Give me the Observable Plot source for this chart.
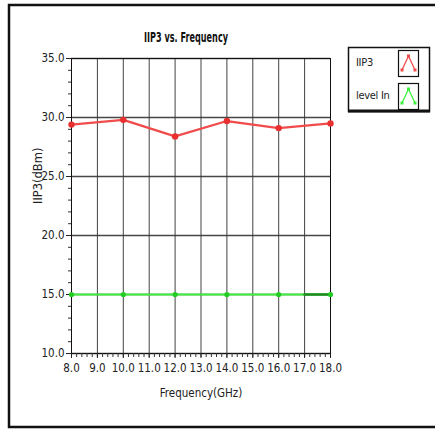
<!DOCTYPE html>
<html>
<head>
<meta charset="utf-8">
<script src="https://cdn.jsdelivr.net/npm/d3@7"></script>
<script src="https://cdn.jsdelivr.net/npm/@observablehq/plot@0.6"></script>
<style>
  html, body { margin: 0; padding: 0; background: #fff; }
  #wrap { position: relative; width: 435px; height: 430px; overflow: hidden; }
  #wrap svg { position: absolute; left: 0; top: 0; }
</style>
</head>
<body>
<div id="wrap"></div>
<script>
// ---- data ----
const freqs = [8, 10, 12, 14, 16, 18];
const iip3 = [29.4, 29.8, 28.4, 29.7, 29.1, 29.5];
const levelIn = [15, 15, 15, 15, 15, 15];
const levelInDarkFreqs = [17, 18];
const levelInDarkVals = [15, 15];
const xTicks = [8, 9, 10, 11, 12, 13, 14, 15, 16, 17, 18];
const yTicks = [10, 15, 20, 25, 30, 35];
const xMinor = d3.range(8, 18.001, 0.2);
const yMinor = d3.range(10, 35.001, 1);
const seriesNames = ["IIP3", "level In"];
const seriesColors = ["#f04c4c", "#3cf03c"];

const redData = freqs.map((f, i) => ({f, v: iip3[i]}));
const greenData = freqs.map((f, i) => ({f, v: levelIn[i]}));
const darkData = levelInDarkFreqs.map((f, i) => ({f, v: levelInDarkVals[i]}));

const font = "'DejaVu Sans Condensed', 'Liberation Sans Narrow', 'Arial Narrow', sans-serif";

const chart = Plot.plot({
  width: 435,
  height: 430,
  marginLeft: 71,
  marginRight: 105,
  marginTop: 58,
  marginBottom: 77,
  style: {fontFamily: font, fontSize: "11px", color: "#222", background: "transparent"},
  x: {domain: [8, 18], label: null},
  y: {domain: [10, 35], label: null},
  marks: [
    Plot.gridX(xTicks, {stroke: "#222", strokeOpacity: 0.85, strokeWidth: 1}),
    Plot.gridY(yTicks, {stroke: "#333", strokeOpacity: 0.9, strokeWidth: 1.6}),
    Plot.frame({stroke: "#111", strokeWidth: 1}),
    Plot.axisX(xMinor, {tickSize: 4, text: null, stroke: "#333", label: null}),
    Plot.axisX(xTicks, {tickSize: 5, tickPadding: 5, tickFormat: d => d.toFixed(1), label: null, fontSize: 11.5, fill: "#222", letterSpacing: "-0.5px"}),
    Plot.axisY(yMinor, {tickSize: 3, text: null, stroke: "#333", label: null}),
    Plot.axisY(yTicks, {tickSize: 5, tickPadding: 2, tickFormat: d => d.toFixed(1), label: null, fontSize: 11.5, fill: "#222", letterSpacing: "-0.5px"}),
    Plot.line(redData, {x: "f", y: "v", stroke: seriesColors[0], strokeWidth: 2.2}),
    Plot.dot(redData, {x: "f", y: "v", r: 3.2, fill: "#e83030", stroke: "none"}),
    Plot.line(greenData, {x: "f", y: "v", stroke: seriesColors[1], strokeWidth: 2.2}),
    Plot.line(darkData, {x: "f", y: "v", stroke: "#1f8a1f", strokeWidth: 2.6}),
    Plot.dot(greenData, {x: "f", y: "v", r: 2.6, fill: "#22cc22", stroke: "none"}),
    Plot.text(["IIP3 vs. Frequency"], {frameAnchor: "top", dx: -15, dy: -26, fontWeight: "bold", fontSize: 14, fill: "#111", className: "ttl"}),
    Plot.text(["Frequency(GHz)"], {frameAnchor: "bottom", dy: 43, fontSize: 11.5, fill: "#222", letterSpacing: "-0.4px"}),
    Plot.text(["IIP3(dBm)"], {frameAnchor: "left", dx: -33, dy: -2, rotate: -90, fontSize: 11.5, fontFamily: "'DejaVu Sans', sans-serif", fill: "#222", letterSpacing: "0.5px"})
  ]
});

document.getElementById("wrap").appendChild(chart);

// narrow the bold title like the reference's condensed face
d3.select(chart).selectAll(".ttl text")
  .attr("textLength", 84).attr("lengthAdjust", "spacingAndGlyphs");

// outer border and legend (layout only)
const svg = d3.select(chart);
svg.append("path")
  .attr("d", "M 445 5 L 9 5 L 9 427 L 445 427")
  .attr("fill", "none").attr("stroke", "#111").attr("stroke-width", 2.5);

const lg = svg.append("g").attr("font-family", font).attr("font-size", 11).attr("text-anchor", "start");
lg.append("rect").attr("x", 348.5).attr("y", 47.5).attr("width", 81).attr("height", 64)
  .attr("fill", "#fff").attr("stroke", "#111").attr("stroke-width", 1.5);
lg.append("line").attr("x1", 348).attr("x2", 430).attr("y1", 111).attr("y2", 111)
  .attr("stroke", "#111").attr("stroke-width", 3);
seriesNames.forEach((name, i) => {
  const y0 = 50 + i * 33;
  lg.append("text").attr("x", 356).attr("y", y0 + 16).attr("fill", "#222")
    .attr("letter-spacing", "-0.3px").text(name);
  lg.append("rect").attr("x", 398.5).attr("y", y0 + 0.5).attr("width", 20).attr("height", 26)
    .attr("fill", "#fff").attr("stroke", "#111").attr("stroke-width", 1.2);
  const pts = [[402, y0 + 20], [408.5, y0 + 6], [415, y0 + 20]];
  lg.append("polyline").attr("points", pts.map(p => p.join(",")).join(" "))
    .attr("fill", "none").attr("stroke", seriesColors[i]).attr("stroke-width", 1.3);
  pts.forEach(p => lg.append("rect").attr("x", p[0] - 1.5).attr("y", p[1] - 1.5)
    .attr("width", 3).attr("height", 3).attr("fill", seriesColors[i]));
});
</script>
</body>
</html>
